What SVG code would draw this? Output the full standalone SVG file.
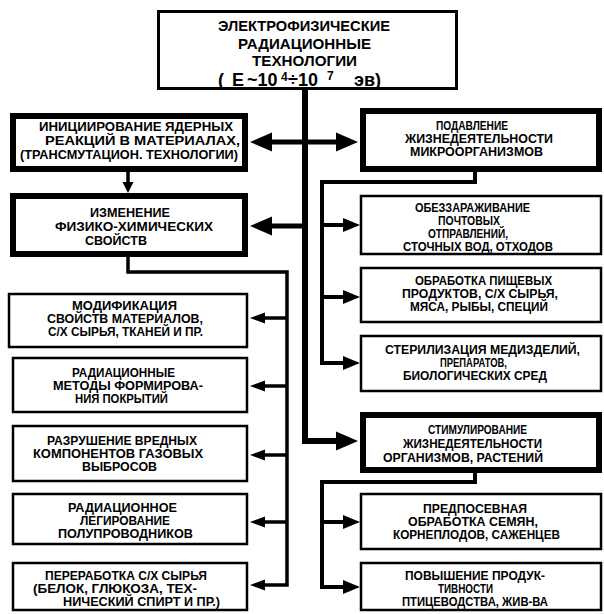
<svg xmlns="http://www.w3.org/2000/svg" width="604" height="614" viewBox="0 0 604 614">
<style>
.bg{fill:#ffffff}
.thick{fill:#ffffff;stroke:#000;stroke-width:6}
.thin{fill:#ffffff;stroke:#000;stroke-width:2.5}
.top{fill:#ffffff;stroke:#000;stroke-width:3}
text{font-family:"Liberation Sans",Arial,sans-serif;font-weight:bold;fill:#000}
.t{font-size:12.5px}
.tt{font-size:15px}
.t4{font-size:18px}
.sup{font-size:12px}
.c{fill:none;stroke:#000;stroke-linejoin:miter}
.w6{stroke-width:6}
.w5{stroke-width:5}
.w4{stroke-width:4}
.w3{stroke-width:3.5}
</style>
<defs>
<marker id="big" markerUnits="userSpaceOnUse" viewBox="0 -10 22 20" markerWidth="22" markerHeight="20" refX="1" refY="0" orient="auto-start-reverse"><path d="M0,-9.5 L22,0 L0,9.5 z" fill="#000"/></marker>
<marker id="med" markerUnits="userSpaceOnUse" viewBox="0 -8 17 16" markerWidth="17" markerHeight="16" refX="1" refY="0" orient="auto"><path d="M0,-7 L17,0 L0,7 z" fill="#000"/></marker>
<marker id="sm" markerUnits="userSpaceOnUse" viewBox="0 -6 15 12" markerWidth="15" markerHeight="12" refX="1" refY="0" orient="auto"><path d="M0,-5.5 L15,0 L0,5.5 z" fill="#000"/></marker>
<marker id="tiny" markerUnits="userSpaceOnUse" viewBox="0 -6 11 12" markerWidth="11" markerHeight="12" refX="1" refY="0" orient="auto"><path d="M0,-5.5 L11,0 L0,5.5 z" fill="#000"/></marker>
</defs>
<rect class="bg" x="0" y="0" width="604" height="614"/>

<g id="connectors">
<polyline class="c w6" points="305,90 305,441 337,441" marker-end="url(#big)"/>
<line class="c w5" x1="271" y1="142" x2="337" y2="142" marker-start="url(#big)" marker-end="url(#big)"/>
<line class="c w5" x1="305" y1="226" x2="271" y2="226" marker-end="url(#big)"/>
<line class="c w3" x1="128" y1="172" x2="128" y2="183" marker-end="url(#tiny)"/>
<polyline class="c w3" points="128,257 128,272 287,272 287,585 264,585" marker-end="url(#sm)"/>
<line class="c w3" x1="287" y1="318" x2="264" y2="318" marker-end="url(#sm)"/>
<line class="c w3" x1="287" y1="386" x2="264" y2="386" marker-end="url(#sm)"/>
<line class="c w3" x1="287" y1="455" x2="264" y2="455" marker-end="url(#sm)"/>
<line class="c w3" x1="287" y1="522" x2="264" y2="522" marker-end="url(#sm)"/>
<polyline class="c w4" points="475,172 475,182 322,182 322,363 344,363" marker-end="url(#med)"/>
<line class="c w4" x1="322" y1="225" x2="344" y2="225" marker-end="url(#med)"/>
<line class="c w4" x1="322" y1="297" x2="344" y2="297" marker-end="url(#med)"/>
<polyline class="c w4" points="475,473 475,482 322,482 322,587 344,587" marker-end="url(#med)"/>
<line class="c w4" x1="322" y1="522" x2="344" y2="522" marker-end="url(#med)"/>
</g>

<g id="title">
<rect class="top" x="158.5" y="11.5" width="298" height="77"/>
<text class="tt" x="218" y="31" textLength="172" lengthAdjust="spacingAndGlyphs">ЭЛЕКТРОФИЗИЧЕСКИЕ</text>
<text class="tt" x="238" y="49" textLength="133" lengthAdjust="spacingAndGlyphs">РАДИАЦИОННЫЕ</text>
<text class="tt" x="252" y="66" textLength="105" lengthAdjust="spacingAndGlyphs">ТЕХНОЛОГИИ</text>
<text class="t4" y="86"><tspan x="218">(</tspan><tspan x="232">E</tspan><tspan x="247">~10</tspan><tspan class="sup" x="281" y="81">4</tspan><tspan x="288" y="86">÷10</tspan><tspan class="sup" x="327" y="80">7</tspan><tspan x="354" y="86">эв)</tspan></text>
</g>

<g id="n-init">
<rect class="thick" x="13" y="116" width="232" height="53"/>
<text class="t" x="39" y="131" textLength="194" lengthAdjust="spacingAndGlyphs">ИНИЦИИРОВАНИЕ ЯДЕРНЫХ</text>
<text class="t" x="45" y="145" textLength="195" lengthAdjust="spacingAndGlyphs">РЕАКЦИЙ В МАТЕРИАЛАХ,</text>
<text class="t" x="20" y="159" textLength="218" lengthAdjust="spacingAndGlyphs">(ТРАНСМУТАЦИОН. ТЕХНОЛОГИИ)</text>
</g>

<g id="n-change">
<rect class="thick" x="13" y="196" width="232" height="58"/>
<text class="t" x="90" y="217" textLength="80" lengthAdjust="spacingAndGlyphs">ИЗМЕНЕНИЕ</text>
<text class="t" x="55" y="231" textLength="158" lengthAdjust="spacingAndGlyphs">ФИЗИКО-ХИМИЧЕСКИХ</text>
<text class="t" x="85" y="245" textLength="62" lengthAdjust="spacingAndGlyphs">СВОЙСТВ</text>
</g>

<g id="n-mod">
<rect class="thin" x="9" y="294" width="238" height="53"/>
<text class="t" x="72" y="310" textLength="105" lengthAdjust="spacingAndGlyphs">МОДИФИКАЦИЯ</text>
<text class="t" x="47" y="323" textLength="156" lengthAdjust="spacingAndGlyphs">СВОЙСТВ МАТЕРИАЛОВ,</text>
<text class="t" x="48" y="336" textLength="155" lengthAdjust="spacingAndGlyphs">С/Х СЫРЬЯ, ТКАНЕЙ И ПР.</text>
</g>

<g id="n-coat">
<rect class="thin" x="13" y="358" width="234" height="54"/>
<text class="t" x="72" y="377" textLength="103" lengthAdjust="spacingAndGlyphs">РАДИАЦИОННЫЕ</text>
<text class="t" x="53" y="390" textLength="150" lengthAdjust="spacingAndGlyphs">МЕТОДЫ ФОРМИРОВА-</text>
<text class="t" x="75" y="403" textLength="93" lengthAdjust="spacingAndGlyphs">НИЯ ПОКРЫТИЙ</text>
</g>

<g id="n-gas">
<rect class="thin" x="13" y="426" width="234" height="55"/>
<text class="t" x="47" y="445" textLength="150" lengthAdjust="spacingAndGlyphs">РАЗРУШЕНИЕ ВРЕДНЫХ</text>
<text class="t" x="33" y="458" textLength="170" lengthAdjust="spacingAndGlyphs">КОМПОНЕНТОВ ГАЗОВЫХ</text>
<text class="t" x="82" y="471" textLength="75" lengthAdjust="spacingAndGlyphs">ВЫБРОСОВ</text>
</g>

<g id="n-dope">
<rect class="thin" x="13" y="494" width="234" height="50"/>
<text class="t" x="68" y="512" textLength="109" lengthAdjust="spacingAndGlyphs">РАДИАЦИОННОЕ</text>
<text class="t" x="80" y="525" textLength="90" lengthAdjust="spacingAndGlyphs">ЛЕГИРОВАНИЕ</text>
<text class="t" x="58" y="538" textLength="135" lengthAdjust="spacingAndGlyphs">ПОЛУПРОВОДНИКОВ</text>
</g>

<g id="n-proc">
<rect class="thin" x="13" y="563" width="234" height="47"/>
<text class="t" x="45" y="580" textLength="162" lengthAdjust="spacingAndGlyphs">ПЕРЕРАБОТКА С/Х СЫРЬЯ</text>
<text class="t" x="33" y="593" textLength="164" lengthAdjust="spacingAndGlyphs">(БЕЛОК, ГЛЮКОЗА, ТЕХ-</text>
<text class="t" x="63" y="606" textLength="157" lengthAdjust="spacingAndGlyphs">НИЧЕСКИЙ СПИРТ И ПР.)</text>
</g>

<g id="n-suppress">
<rect class="thick" x="363" y="111" width="236" height="58"/>
<text class="t" x="436" y="130" textLength="72" lengthAdjust="spacingAndGlyphs">ПОДАВЛЕНИЕ</text>
<text class="t" x="405" y="143" textLength="148" lengthAdjust="spacingAndGlyphs">ЖИЗНЕДЕЯТЕЛЬНОСТИ</text>
<text class="t" x="410" y="156" textLength="133" lengthAdjust="spacingAndGlyphs">МИКРООРГАНИЗМОВ</text>
</g>

<g id="n-disinf">
<rect class="thin" x="361" y="196" width="240" height="58"/>
<text class="t" x="415" y="212" textLength="115" lengthAdjust="spacingAndGlyphs">ОБЕЗЗАРАЖИВАНИЕ</text>
<text class="t" x="438" y="225" textLength="62" lengthAdjust="spacingAndGlyphs">ПОЧТОВЫХ</text>
<text class="t" x="428" y="238" textLength="80" lengthAdjust="spacingAndGlyphs">ОТПРАВЛЕНИЙ,</text>
<text class="t" x="403" y="251" textLength="150" lengthAdjust="spacingAndGlyphs">СТОЧНЫХ ВОД, ОТХОДОВ</text>
</g>

<g id="n-food">
<rect class="thin" x="361" y="268" width="240" height="54"/>
<text class="t" x="415" y="285" textLength="137" lengthAdjust="spacingAndGlyphs">ОБРАБОТКА ПИЩЕВЫХ</text>
<text class="t" x="402" y="298" textLength="156" lengthAdjust="spacingAndGlyphs">ПРОДУКТОВ, С/Х СЫРЬЯ,</text>
<text class="t" x="410" y="311" textLength="138" lengthAdjust="spacingAndGlyphs">МЯСА, РЫБЫ, СПЕЦИЙ</text>
</g>

<g id="n-steril">
<rect class="thin" x="361" y="336" width="240" height="55"/>
<text class="t" x="385" y="354" textLength="195" lengthAdjust="spacingAndGlyphs">СТЕРИЛИЗАЦИЯ МЕДИЗДЕЛИЙ,</text>
<text class="t" x="440" y="367" textLength="67" lengthAdjust="spacingAndGlyphs">ПРЕПАРАТОВ,</text>
<text class="t" x="403" y="380" textLength="144" lengthAdjust="spacingAndGlyphs">БИОЛОГИЧЕСКИХ СРЕД</text>
</g>

<g id="n-stim">
<rect class="thick" x="363" y="415" width="236" height="55"/>
<text class="t" x="428" y="434" textLength="99" lengthAdjust="spacingAndGlyphs">СТИМУЛИРОВАНИЕ</text>
<text class="t" x="403" y="448" textLength="139" lengthAdjust="spacingAndGlyphs">ЖИЗНЕДЕЯТЕЛЬНОСТИ</text>
<text class="t" x="383" y="462" textLength="160" lengthAdjust="spacingAndGlyphs">ОРГАНИЗМОВ, РАСТЕНИЙ</text>
</g>

<g id="n-seed">
<rect class="thin" x="361" y="494" width="240" height="55"/>
<text class="t" x="423" y="513" textLength="104" lengthAdjust="spacingAndGlyphs">ПРЕДПОСЕВНАЯ</text>
<text class="t" x="408" y="526" textLength="130" lengthAdjust="spacingAndGlyphs">ОБРАБОТКА СЕМЯН,</text>
<text class="t" x="393" y="539" textLength="167" lengthAdjust="spacingAndGlyphs">КОРНЕПЛОДОВ, САЖЕНЦЕВ</text>
</g>

<g id="n-poultry">
<rect class="thin" x="361" y="563" width="240" height="47"/>
<text class="t" x="405" y="580" textLength="140" lengthAdjust="spacingAndGlyphs">ПОВЫШЕНИЕ ПРОДУК-</text>
<text class="t" x="438" y="593" textLength="55" lengthAdjust="spacingAndGlyphs">ТИВНОСТИ</text>
<text class="t" x="402" y="606" textLength="146" lengthAdjust="spacingAndGlyphs">ПТИЦЕВОДСТВА, ЖИВ-ВА</text>
</g>
</svg>
